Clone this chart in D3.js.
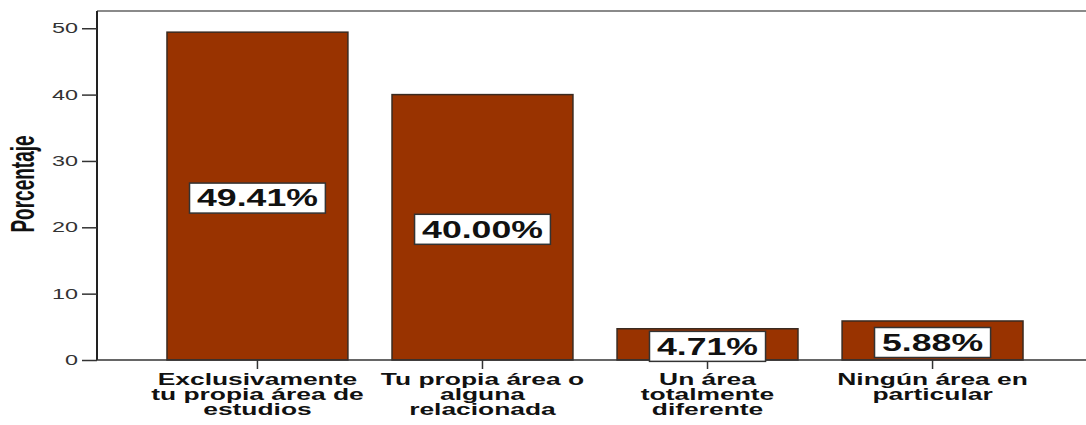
<!DOCTYPE html>
<html>
<head>
<meta charset="utf-8">
<script src="https://cdn.jsdelivr.net/npm/d3@7"></script>
<style>
  body { margin: 0; background: #fff; }
  svg { display: block; font-family: Arial, "Liberation Sans", sans-serif; }
</style>
</head>
<body>
<script>
let width = 1086;
let height = 425;

// data
let categories = [
  ['Exclusivamente', 'tu propia área de', 'estudios'],
  ['Tu propia área o', 'alguna', 'relacionada'],
  ['Un área', 'totalmente', 'diferente'],
  ['Ningún área en', 'particular']
];
let values = [49.41, 40.00, 4.71, 5.88];
let yTicks = [0, 10, 20, 30, 40, 50];

let plotLeft = 97, plotTop = 11, plotBottom = 360, plotRight = 1093;
let sx = 1.65; // text in the picture is stretched horizontally

let x = d3.scaleBand()
  .domain(d3.range(values.length))
  .range([plotLeft, plotRight])
  .paddingInner(0.196)
  .paddingOuter(0.311);

let y = d3.scaleLinear()
  .domain([0, 52.6])
  .range([plotBottom, plotTop]);

let svg = d3.select('body')
  .append('svg')
  .attr('width', width)
  .attr('height', height);

// frame top line
svg.append('line')
  .attr('x1', plotLeft).attr('x2', width)
  .attr('y1', plotTop).attr('y2', plotTop)
  .attr('stroke', '#8a8a8a')
  .attr('stroke-width', 2);

// bars
svg.append('g')
  .selectAll('rect')
  .data(values)
  .enter()
  .append('rect')
  .attr('x', (d, i) => x(i))
  .attr('y', d => y(d))
  .attr('width', x.bandwidth())
  .attr('height', d => plotBottom - y(d))
  .attr('fill', '#993300')
  .attr('stroke', '#3a2a20')
  .attr('stroke-width', 1.5);

// y axis
let yAxis = svg.append('g')
  .attr('transform', 'translate(' + plotLeft + ',0)')
  .call(d3.axisLeft(y).tickValues(yTicks).tickSize(15).tickPadding(4).tickSizeOuter(0));
yAxis.select('.domain').attr('stroke', '#222').attr('stroke-width', 2)
  .attr('d', 'M0,' + plotTop + 'V' + plotBottom);
yAxis.selectAll('.tick line').attr('stroke', '#333').attr('stroke-width', 1.5);
yAxis.selectAll('.tick text')
  .attr('x', 0)
  .attr('fill', '#333')
  .style('font-size', '14px')
  .attr('transform', 'translate(-19,0) scale(1.67,1)');

// x axis
let xAxis = svg.append('g')
  .attr('transform', 'translate(0,' + plotBottom + ')')
  .call(d3.axisBottom(x).tickSize(9).tickSizeOuter(0).tickFormat(''));
xAxis.select('.domain').attr('stroke', '#333').attr('stroke-width', 1.5)
  .attr('d', 'M' + plotLeft + ',0H' + width);
xAxis.selectAll('.tick line').attr('stroke', '#333').attr('stroke-width', 1.5);

// category labels
let cat = svg.append('g')
  .selectAll('text')
  .data(categories)
  .enter()
  .append('text')
  .attr('transform', (d, i) => 'translate(' + (x(i) + x.bandwidth() / 2) + ',385) scale(' + sx + ',1)')
  .attr('text-anchor', 'middle')
  .style('font-size', '16px')
  .style('font-weight', 'bold')
  .attr('fill', '#111');
cat.selectAll('tspan')
  .data(d => d)
  .enter()
  .append('tspan')
  .attr('x', 0)
  .attr('dy', (d, i) => i === 0 ? 0 : 15)
  .text(d => d);

// value labels
let labels = svg.append('g')
  .selectAll('g')
  .data(values)
  .enter()
  .append('g')
  .attr('transform', (d, i) => 'translate(' + (x(i) + x.bandwidth() / 2) + ',' + ((y(d) + plotBottom) / 2 + 2) + ')');
let boxes = labels.append('rect')
  .attr('fill', '#fff')
  .attr('stroke', '#333')
  .attr('stroke-width', 1.5);
let vtext = labels.append('text')
  .attr('text-anchor', 'middle')
  .attr('dy', '0.36em')
  .attr('transform', 'scale(1.55,1)')
  .style('font-size', '23px')
  .style('font-weight', 'bold')
  .attr('fill', '#111')
  .text(d => d.toFixed(2) + '%');
vtext.each(function(d, i) {
  let w = this.getComputedTextLength() * 1.55 + 15;
  d3.select(boxes.nodes()[i])
    .attr('x', -w / 2).attr('y', -15)
    .attr('width', w).attr('height', 30);
});

// y title
svg.append('text')
  .attr('transform', 'translate(34,184) scale(1.75,1) rotate(-90)')
  .attr('text-anchor', 'middle')
  .style('font-size', '19px')
  .style('font-weight', 'bold')
  .attr('fill', '#111')
  .text('Porcentaje');
</script>
</body>
</html>
